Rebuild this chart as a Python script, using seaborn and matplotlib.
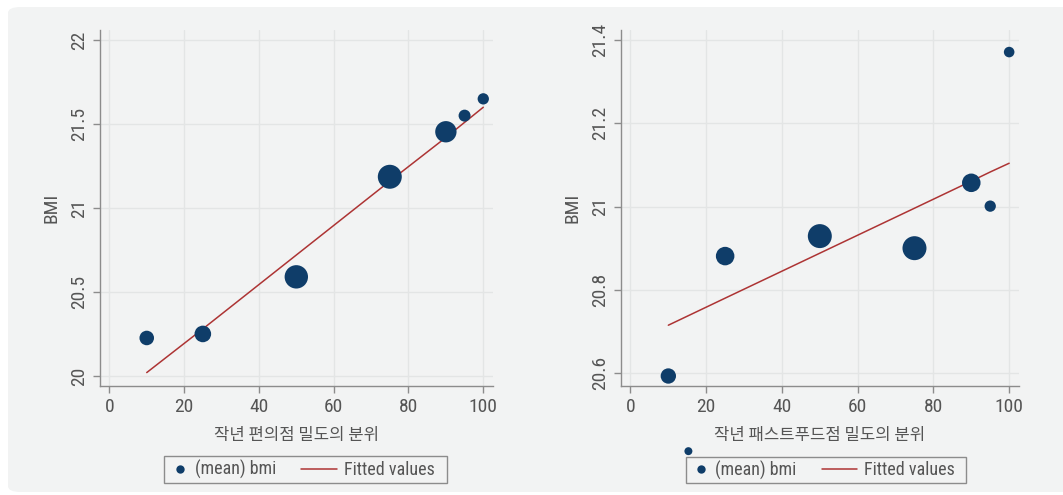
import matplotlib
matplotlib.use("Agg")
import matplotlib.pyplot as plt
from matplotlib.lines import Line2D
from matplotlib.legend_handler import HandlerLine2D
from matplotlib.patches import FancyBboxPatch, Rectangle
import logging
import pandas as pd
import seaborn as sns

logging.getLogger("matplotlib.font_manager").setLevel(logging.ERROR)

# Quantile bins of last year's store density (x) and mean BMI per bin
quantile = [10, 25, 50, 75, 90, 95, 100]

conv_bmi = [20.226, 20.25, 20.59, 21.186, 21.454, 21.55, 21.65]
conv_fit = [20.02, 20.28, 20.72, 21.16, 21.42, 21.51, 21.60]
conv_weight = [53, 69, 137, 144, 114, 36, 32]

fast_bmi = [20.593, 20.881, 20.929, 20.90, 21.057, 21.001, 21.371]
fast_fit = [20.715, 20.780, 20.888, 20.996, 21.061, 21.083, 21.104]
fast_weight = [59, 86, 144, 144, 86, 32, 28]

x_ticks = [0, 20, 40, 60, 80, 100]
conv_yticks = [20, 20.5, 21, 21.5, 22]
conv_ytick_labels = ["20", "20.5", "21", "21.5", "22"]
fast_yticks = [20.6, 20.8, 21.0, 21.2, 21.4]
fast_ytick_labels = ["20.6", "20.8", "21", "21.2", "21.4"]

conv_xlabel = "작년 편의점 밀도의 분위"
fast_xlabel = "작년 패스트푸드점 밀도의 분위"
y_label = "BMI"
legend_labels = ["(mean) bmi", "Fitted values"]

# a lone marker that sits just above the right-hand legend
extra_point = (15.3, 20.4125)

NAVY = "#0f3d69"
MAROON = "#ad3434"
PANEL = "#f2f3f3"
GRID = "#e3e5e5"
TEXT = "#555555"
SPINE = "#8c8c8c"

sns.set_theme(style="white")
plt.rcParams["font.family"] = ["Roboto Condensed", "Liberation Sans Narrow",
                               "Roboto", "Noto Sans CJK KR", "DejaVu Sans"]
KOREAN = ["Noto Sans CJK KR", "DejaVu Sans"]

W, H = 1063, 495
fig = plt.figure(figsize=(W / 100, H / 100), dpi=100, facecolor="white")

# rounded light-grey panel behind both charts
fig.patches.append(FancyBboxPatch((8 / W, 3 / H), 1.2, (488 - 3) / H,
                                  boxstyle="round,pad=0,rounding_size=0.012",
                                  transform=fig.transFigure, facecolor=PANEL,
                                  edgecolor="none", zorder=-10))


def px_axes(x0, x1, y0, y1):
    return fig.add_axes([x0 / W, (H - y1) / H, (x1 - x0) / W, (y1 - y0) / H])


def draw_panel(ax, bmi, fit, weight, yticks, ylabels, ylim, xlabel):
    df = pd.DataFrame({"q": quantile, "bmi": bmi, "fit": fit, "w": weight})
    ax.set_facecolor(PANEL)
    sns.lineplot(data=df, x="q", y="fit", ax=ax, color=MAROON, linewidth=1.1,
                 zorder=3, legend=False)
    sns.scatterplot(data=df, x="q", y="bmi", size="w", sizes=(0, 2.07 * 150),
                    size_norm=(0, 150), color=NAVY, edgecolor="none",
                    ax=ax, zorder=4, legend=False)
    ax.set_xlim(-2.5, 102.6)
    ax.set_ylim(*ylim)
    ax.set_xticks(x_ticks)
    ax.set_yticks(yticks)
    ax.set_yticklabels(ylabels, rotation=90, va="center")
    ax.grid(True, color=GRID, linewidth=1.0, zorder=0)
    ax.set_axisbelow(True)
    for side in ("top", "right"):
        ax.spines[side].set_visible(False)
    for side in ("left", "bottom"):
        ax.spines[side].set_color(SPINE)
        ax.spines[side].set_linewidth(1.0)
    ax.tick_params(axis="both", direction="out", length=5, width=1.0,
                   color=SPINE, labelcolor=TEXT, labelsize=14, pad=3.5,
                   left=True, bottom=True)
    ax.set_xlabel(xlabel, color=TEXT, fontsize=12, labelpad=8, family=KOREAN)
    ax.set_ylabel(y_label, color=TEXT, fontsize=14, labelpad=7)


ax1 = px_axes(100, 493, 30, 386)
draw_panel(ax1, conv_bmi, conv_fit, conv_weight, conv_yticks,
           conv_ytick_labels, (19.94, 22.06), conv_xlabel)

ax2 = px_axes(621, 1019, 30, 386)
draw_panel(ax2, fast_bmi, fast_fit, fast_weight, fast_yticks,
           fast_ytick_labels, (20.569, 21.424), fast_xlabel)
ax2.scatter([extra_point[0]], [extra_point[1]], s=33, color=NAVY,
            edgecolor="none", clip_on=False, zorder=5)


class MarkerKey(HandlerLine2D):
    """Marker key placed a little right of the handle's left edge."""

    def get_xdata(self, legend, xdescent, ydescent, width, height, fontsize):
        return [0, width], [0.45 * width]


class LongLineKey(HandlerLine2D):
    """Line key that reaches leftwards past its (short) handle box."""

    def get_xdata(self, legend, xdescent, ydescent, width, height, fontsize):
        return [-1.3 * width, width], [0.5 * width]


marker_handle = Line2D([], [], marker="o", linestyle="none", color=NAVY,
                       markersize=6.0, markeredgewidth=0)
line_handle = Line2D([], [], color=MAROON, linewidth=1.1)

# legend boxes (left, top, right, bottom in pixels) with their keys inside
legend_boxes = [(164, 456, 447, 483), (686, 457, 966, 483)]
for x0, y0, x1, y1 in legend_boxes:
    fig.patches.append(Rectangle((x0 / W, (H - y1) / H), (x1 - x0) / W,
                                 (y1 - y0) / H, transform=fig.transFigure,
                                 facecolor=PANEL, edgecolor=SPINE,
                                 linewidth=1.0, zorder=1))
    cx = (x0 + x1) / 2 - 2
    cy = (y0 + y1) / 2
    fig.legend([marker_handle, line_handle], legend_labels, loc="center",
               bbox_to_anchor=(cx / W, (H - cy) / H), ncol=2,
               frameon=False, fontsize=13,
               handlelength=0.85, handletextpad=0.38, columnspacing=2.5,
               borderpad=0.25, labelcolor=TEXT,
               handler_map={marker_handle: MarkerKey(),
                            line_handle: LongLineKey()})

fig.savefig("out.png", dpi=100, facecolor="white")
